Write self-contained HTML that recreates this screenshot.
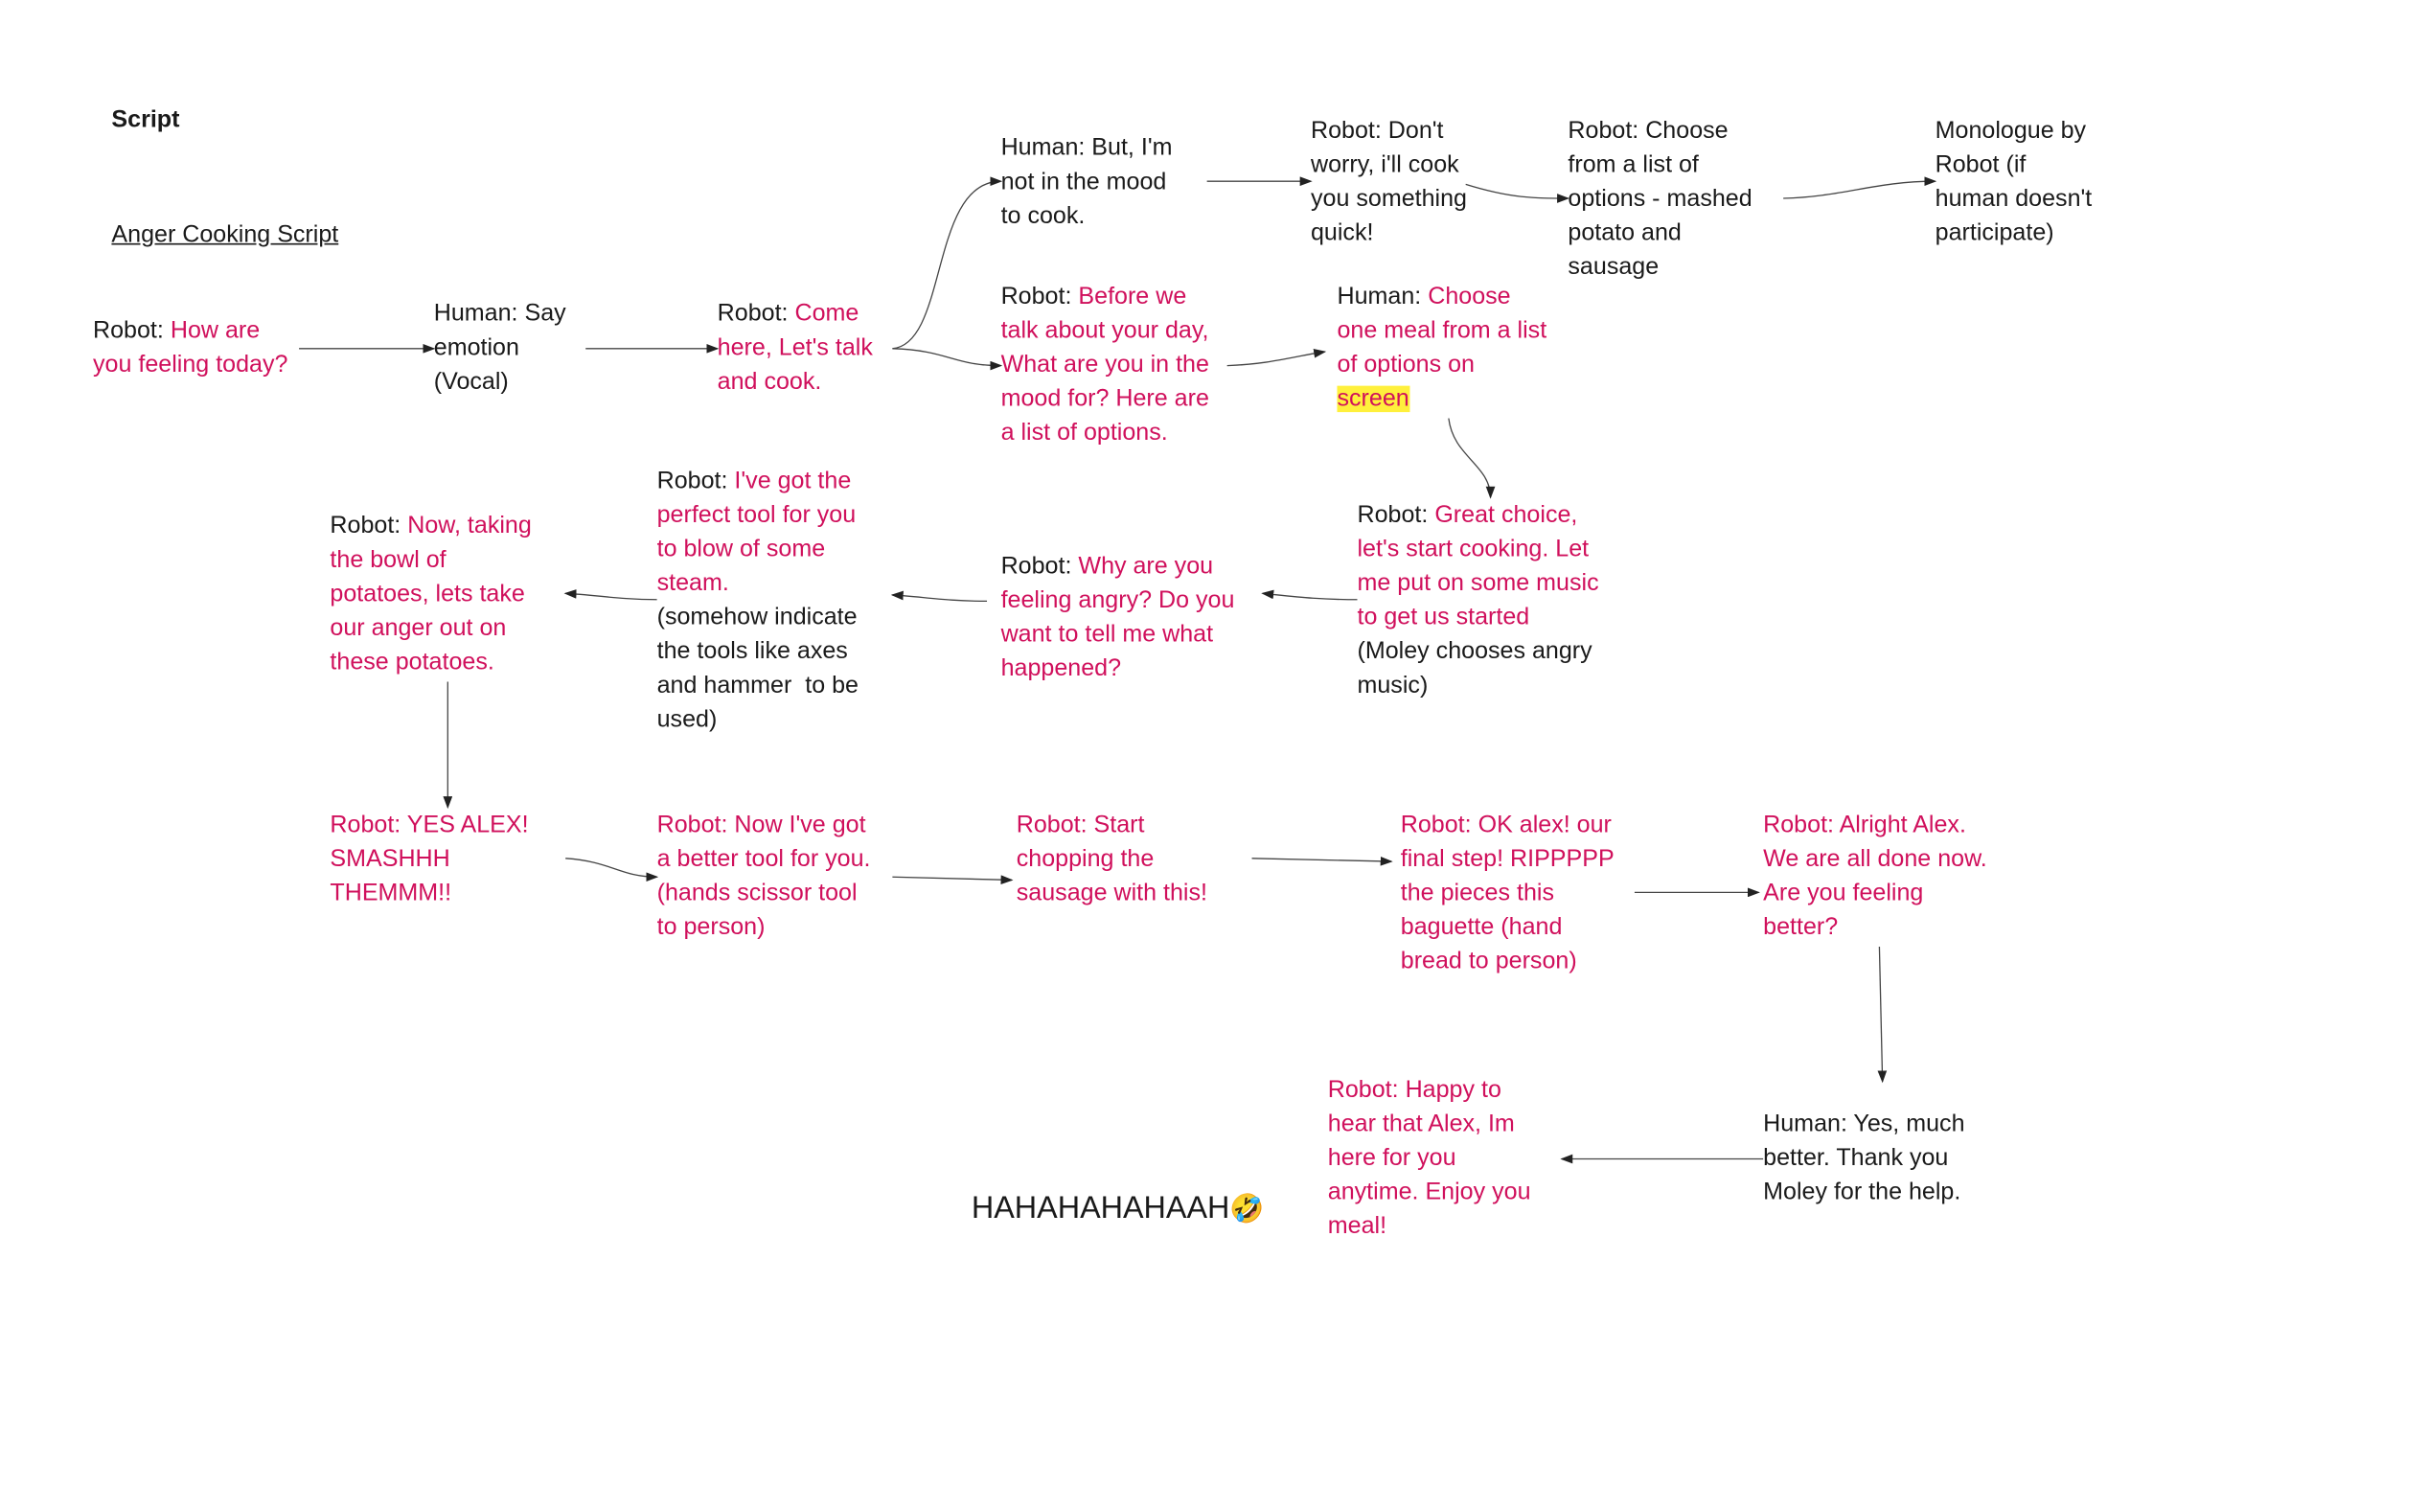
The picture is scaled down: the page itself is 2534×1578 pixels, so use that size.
<!DOCTYPE html>
<html><head><meta charset="utf-8">
<style>
html,body{margin:0;padding:0;background:#fff;width:2534px;height:1578px;overflow:hidden}
#c{position:absolute;left:0;top:0;width:1567px;height:976px;transform:scale(1.617);transform-origin:0 0;font-family:"Liberation Sans","Noto Sans CJK SC",sans-serif;font-size:15.5px;line-height:22px;color:#1a1a1a}
.t{position:absolute;white-space:nowrap}
.p{color:#d0105c}
.hl{background:#fff03c}
svg{position:absolute;left:0;top:0}
</style></head><body>
<div id="c">
<svg width="1567" height="976" viewBox="0 0 1567 976">
<defs><marker id="a" markerWidth="8" markerHeight="6" refX="7" refY="3" orient="auto" markerUnits="userSpaceOnUse"><path d="M0,0 L8,3 L0,6 z" fill="#222"/></marker></defs>
<g fill="none" stroke="#444" stroke-width="0.8" marker-end="url(#a)">
<path d="M193,225 L280,225"/>
<path d="M378,225 L463,225"/>
<path d="M576,225 C612,222 600,117 646,117"/>
<path d="M576,225 C612,226 615,236 646,236"/>
<path d="M779,117 L846,117"/>
<path d="M946,119 C975,128 990,128 1012,128"/>
<path d="M1151,128 C1190,127 1210,117 1249,117"/>
<path d="M792,236 C820,235 835,230 855,227"/>
<path d="M935,270 C938,295 962,300 962,321"/>
<path d="M876,387 C850,387 835,385 815,383"/>
<path d="M637,388 C610,388 595,385 576,384"/>
<path d="M424,387 C400,387 385,384 365,383"/>
<path d="M289,440 L289,521"/>
<path d="M365,554 C395,556 400,566 424,566"/>
<path d="M576,566 L653,568"/>
<path d="M808,554 L898,556"/>
<path d="M1055,576 L1135,576"/>
<path d="M1213,611 L1215,698"/>
<path d="M1138,748 L1008,748"/>
</g>
</svg>
<div class="t" style="left:72px;top:67px;font-weight:bold">Script</div>
<div class="t" style="left:72px;top:141px;text-decoration:underline">Anger Cooking Script</div>
<div class="t" style="left:60px;top:203px">Robot: <span class="p">How are</span><br><span class="p">you feeling today?</span></div>
<div class="t" style="left:280px;top:192px">Human: Say<br>emotion<br>(Vocal)</div>
<div class="t" style="left:463px;top:192px">Robot: <span class="p">Come</span><br><span class="p">here, Let's talk</span><br><span class="p">and cook.</span></div>
<div class="t" style="left:646px;top:85px">Human: But, I'm<br>not in the mood<br>to cook.</div>
<div class="t" style="left:846px;top:74px">Robot: Don't<br>worry, i'll cook<br>you something<br>quick!</div>
<div class="t" style="left:1012px;top:74px">Robot: Choose<br>from a list of<br>options - mashed<br>potato and<br>sausage</div>
<div class="t" style="left:1249px;top:74px">Monologue by<br>Robot (if<br>human doesn't<br>participate)</div>
<div class="t" style="left:646px;top:181px">Robot: <span class="p">Before we</span><br><span class="p">talk about your day,</span><br><span class="p">What are you in the</span><br><span class="p">mood for? Here are</span><br><span class="p">a list of options.</span></div>
<div class="t" style="left:863px;top:181px">Human: <span class="p">Choose</span><br><span class="p">one meal from a list</span><br><span class="p">of options on</span><br><span class="p hl">screen</span></div>
<div class="t" style="left:876px;top:322px">Robot: <span class="p">Great choice,</span><br><span class="p">let's start cooking. Let</span><br><span class="p">me put on some music</span><br><span class="p">to get us started</span><br>(Moley chooses angry<br>music)</div>
<div class="t" style="left:646px;top:355px">Robot: <span class="p">Why are you</span><br><span class="p">feeling angry? Do you</span><br><span class="p">want to tell me what</span><br><span class="p">happened?</span></div>
<div class="t" style="left:424px;top:300px">Robot: <span class="p">I've got the</span><br><span class="p">perfect tool for you</span><br><span class="p">to blow of some</span><br><span class="p">steam.</span><br>(somehow indicate<br>the tools like axes<br>and hammer&nbsp; to be<br>used)</div>
<div class="t" style="left:213px;top:329px">Robot: <span class="p">Now, taking</span><br><span class="p">the bowl of</span><br><span class="p">potatoes, lets take</span><br><span class="p">our anger out on</span><br><span class="p">these potatoes.</span></div>
<div class="t p" style="left:213px;top:522px">Robot: YES ALEX!<br>SMASHHH<br>THEMMM!!</div>
<div class="t p" style="left:424px;top:522px">Robot: Now I've got<br>a better tool for you.<br>(hands scissor tool<br>to person)</div>
<div class="t p" style="left:656px;top:522px">Robot: Start<br>chopping the<br>sausage with this!</div>
<div class="t p" style="left:904px;top:522px">Robot: OK alex! our<br>final step! RIPPPPP<br>the pieces this<br>baguette (hand<br>bread to person)</div>
<div class="t p" style="left:1138px;top:522px">Robot: Alright Alex.<br>We are all done now.<br>Are you feeling<br>better?</div>
<div class="t" style="left:1138px;top:715px">Human: Yes, much<br>better. Thank you<br>Moley for the help.</div>
<div class="t p" style="left:857px;top:693px">Robot: Happy to<br>hear that Alex, Im<br>here for you<br>anytime. Enjoy you<br>meal!</div>
<div class="t" style="left:627px;top:766px;font-size:20px;line-height:28px">HAHAHAHAHAAH<span style="font-size:18px">🤣</span></div>
</div>
</body></html>
